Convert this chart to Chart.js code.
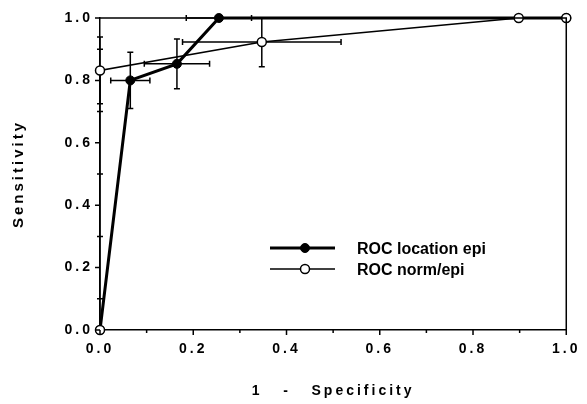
<!DOCTYPE html>
<html>
<head>
<meta charset="utf-8">
<script src="https://cdn.jsdelivr.net/npm/chart.js@4/dist/chart.umd.min.js"></script>
<style>
  body { margin: 0; background: #fff; }
</style>
</head>
<body>
<canvas id="rocChart" width="587" height="404"></canvas>
<script>
// values
var seriesNames = ["ROC location epi", "ROC norm/epi"];

var locX    = [0, 0.065, 0.165, 0.255, 1.0];
var locY    = [0, 0.800, 0.853, 1.000, 1.0];
var locXErr = [0, 0.042, 0.070, 0.070, 0];
var locYErr = [0, 0.090, 0.080, 0, 0];

var normX    = [0, 0, 0.347, 0.898, 1.0];
var normY    = [0, 0.832, 0.923, 1.000, 1.0];
var normXErr = [0, 0, 0.170, 0, 0];
var normYErr = [0, 0.107, 0.079, 0, 0];

var axisMin = 0, axisMax = 1, tickStep = 0.1;
var xTitle = "1   -   Specificity";
var yTitle = "Sensitivity";

function toPoints(xs, ys) {
    return xs.map(function (x, i) { return { x: x, y: ys[i] }; });
}

function tickLabel(value, index) {
    // labels only on every 0.2, minor ticks in between
    return index % 2 === 0 ? value.toFixed(1) : "";
}

var FONT = "'Liberation Sans', Arial, sans-serif";

// letter spaced axis text like the scan
var spacing = {
    id: "spacing",
    beforeDraw: function (chart) { chart.ctx.letterSpacing = "3px"; },
    afterDraw: function (chart) { chart.ctx.letterSpacing = "0px"; }
};

// error bars from the err arrays
var errorBars = {
    id: "errorBars",
    beforeDatasetsDraw: function (chart) {
        var ctx = chart.ctx, xs = chart.scales.x, ys = chart.scales.y;
        var sets = [[locX, locY, locXErr, locYErr], [normX, normY, normXErr, normYErr]];
        var cap = 3;
        ctx.save();
        ctx.strokeStyle = "#000";
        ctx.lineWidth = 1.5;
        sets.forEach(function (s) {
            s[0].forEach(function (x, i) {
                var px = xs.getPixelForValue(x), py = ys.getPixelForValue(s[1][i]);
                var ex = s[2][i], ey = s[3][i];
                ctx.beginPath();
                if (ex > 0) {
                    var l = xs.getPixelForValue(x - ex), r = xs.getPixelForValue(x + ex);
                    ctx.moveTo(l, py); ctx.lineTo(r, py);
                    ctx.moveTo(l, py - cap); ctx.lineTo(l, py + cap);
                    ctx.moveTo(r, py - cap); ctx.lineTo(r, py + cap);
                }
                if (ey > 0) {
                    var t = ys.getPixelForValue(Math.min(1, s[1][i] + ey)), b = ys.getPixelForValue(s[1][i] - ey);
                    ctx.moveTo(px, t); ctx.lineTo(px, b);
                    ctx.moveTo(px - cap, t); ctx.lineTo(px + cap, t);
                    ctx.moveTo(px - cap, b); ctx.lineTo(px + cap, b);
                }
                ctx.stroke();
            });
        });
        ctx.restore();
    }
};

// frame, tick marks and the legend inside the plot
var extras = {
    id: "extras",
    afterDraw: function (chart) {
        var ctx = chart.ctx, a = chart.chartArea;
        var xs = chart.scales.x, ys = chart.scales.y;
        ctx.save();
        ctx.letterSpacing = "0px";
        ctx.strokeStyle = "#000";
        ctx.lineWidth = 1.5;
        ctx.beginPath();
        ctx.moveTo(a.left, a.top); ctx.lineTo(a.right, a.top); ctx.lineTo(a.right, a.bottom);
        ctx.stroke();

        ctx.beginPath();
        xs.ticks.forEach(function (t, i) {
            var p = xs.getPixelForValue(t.value);
            ctx.moveTo(p, a.bottom); ctx.lineTo(p, a.bottom + (i % 2 === 0 ? 5 : 3));
        });
        ys.ticks.forEach(function (t, i) {
            var p = ys.getPixelForValue(t.value);
            if (i % 2 === 0) { ctx.moveTo(a.left - 5, p); ctx.lineTo(a.left, p); }
            else { ctx.moveTo(a.left - 3, p); ctx.lineTo(a.left + 3, p); }
        });
        ctx.stroke();

        // legend
        var rows = [248, 269];
        chart.data.datasets.forEach(function (ds, i) {
            var y = rows[i];
            ctx.lineWidth = ds.borderWidth;
            ctx.beginPath();
            ctx.moveTo(270, y); ctx.lineTo(335, y);
            ctx.stroke();
            ctx.beginPath();
            ctx.arc(305, y, ds.pointRadius, 0, Math.PI * 2);
            ctx.fillStyle = ds.pointBackgroundColor;
            ctx.fill();
            ctx.lineWidth = ds.pointBorderWidth;
            ctx.stroke();
            ctx.fillStyle = "#000";
            ctx.font = "bold 16px " + FONT;
            ctx.textBaseline = "middle";
            ctx.fillText(ds.label, 357, y + 2);
        });
        ctx.restore();
    }
};

var ctxRoc = document.getElementById("rocChart").getContext("2d");
var rocChart = new Chart(ctxRoc, {
    type: "scatter",
    data: {
        datasets: [
            {
                label: seriesNames[0],
                data: toPoints(locX, locY),
                showLine: true,
                borderColor: "#000",
                borderWidth: 3,
                pointRadius: 4.5,
                pointBackgroundColor: "#000",
                pointBorderColor: "#000",
                pointBorderWidth: 1,
                order: 1,
                clip: false
            },
            {
                label: seriesNames[1],
                data: toPoints(normX, normY),
                showLine: true,
                borderColor: "#000",
                borderWidth: 1.5,
                pointRadius: 4.5,
                pointBackgroundColor: "#fff",
                pointBorderColor: "#000",
                pointBorderWidth: 1.5,
                order: 0,
                clip: false
            }
        ]
    },
    options: {
        responsive: false,
        animation: false,
        layout: { padding: { left: 0, right: 15, top: 18, bottom: 0 } },
        plugins: { legend: { display: false }, tooltip: { enabled: false } },
        scales: {
            x: {
                type: "linear",
                min: axisMin,
                max: axisMax,
                afterFit: function (s) { s.height = 74; },
                grid: { display: false, drawTicks: false },
                border: { display: true, color: "#000", width: 1.5 },
                ticks: {
                    stepSize: tickStep,
                    autoSkip: false,
                    maxRotation: 0,
                    padding: 11,
                    color: "#000",
                    font: { family: FONT, size: 14, weight: "bold" },
                    callback: tickLabel
                },
                title: {
                    display: true,
                    text: xTitle,
                    color: "#000",
                    font: { family: FONT, size: 14, weight: "bold" },
                    padding: { top: 0, bottom: 4 }
                }
            },
            y: {
                type: "linear",
                min: axisMin,
                max: axisMax,
                afterFit: function (s) { s.width = 100; },
                grid: { display: false, drawTicks: false },
                border: { display: true, color: "#000", width: 1.5 },
                ticks: {
                    stepSize: tickStep,
                    autoSkip: false,
                    padding: 7,
                    color: "#000",
                    font: { family: FONT, size: 14, weight: "bold" },
                    callback: tickLabel
                },
                title: {
                    display: true,
                    text: yTitle,
                    color: "#000",
                    font: { family: FONT, size: 15, weight: "bold" },
                    padding: { top: 10, bottom: 0 }
                }
            }
        }
    },
    plugins: [spacing, errorBars, extras]
});
</script>
</body>
</html>
